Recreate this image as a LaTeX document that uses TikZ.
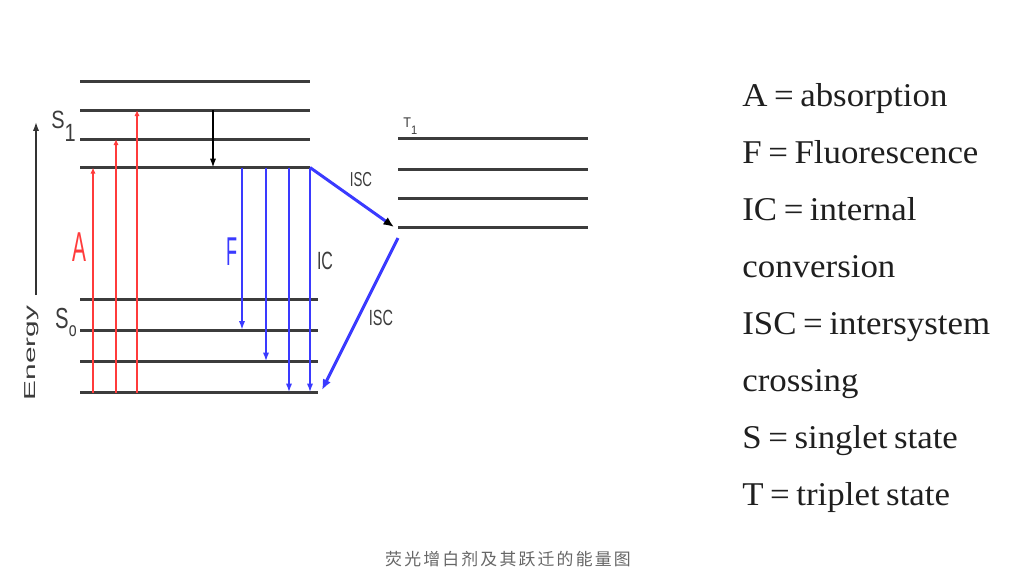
\documentclass[tikz,border=0pt]{standalone}
\usepackage{fontspec}
\setmainfont[WordSpace=0.75]{Liberation Serif}
\setsansfont{Liberation Sans}
\newfontfamily\cjk[LetterSpace=13]{Noto Sans CJK SC}
\usetikzlibrary{arrows.meta}

\definecolor{lvlgray}{HTML}{3C3C3C}
\definecolor{absred}{HTML}{FF3B3B}
\definecolor{emblue}{HTML}{3A3AFF}
\definecolor{capgray}{HTML}{666666}

\begin{document}
\begin{tikzpicture}[x=0.02cm, y=-0.02cm,
    level/.style={lvlgray, line width=1.7pt},
    absarr/.style={absred, line width=1pt, -{Latex[length=3.5pt,width=3pt]}},
    emarr/.style={emblue, line width=1.1pt, -{Latex[length=5pt,width=3.5pt]}},
    iscarr/.style={emblue, line width=1.7pt, -{Latex[length=6pt,width=5pt]}},
    lbl/.style={inner sep=0pt, font=\sffamily},
    legend/.style={inner sep=0pt, anchor=base west, xscale=1.05, text=black!88, font=\fontsize{18.9}{20}\selectfont}]
    \useasboundingbox (0,0) rectangle (1020,586);
    % energy levels S1, S0, T1
    \foreach \n/\y in {1/81,2/110,3/139,4/167.5} {
        \coordinate (S1a\n) at (80,\y); \coordinate (S1b\n) at (310,\y);
        \draw[level] (S1a\n) -- (S1b\n);
    }
    \foreach \n/\y in {1/299,2/330,3/361.5,4/392.5} {
        \coordinate (S0a\n) at (80,\y); \coordinate (S0b\n) at (318,\y);
        \draw[level] (S0a\n) -- (S0b\n);
    }
    \foreach \n/\y in {1/138.5,2/169,3/198,4/227} {
        \coordinate (T1a\n) at (398,\y); \coordinate (T1b\n) at (588,\y);
        \draw[level] (T1a\n) -- (T1b\n);
    }
    % absorption
    \foreach \i/\x/\t in {1/93/4,2/116/3,3/137/2} {
        \coordinate (ab\i) at (\x,392.5);
        \draw[absarr] (ab\i) -- (ab\i |- S1a\t);
    }
    % vibrational relaxation
    \coordinate (vr) at (213,110);
    \draw[black, line width=.8pt, -{Latex[length=5pt,width=3.5pt]}] (vr) -- (vr |- S1a4);
    % fluorescence and IC
    \foreach \i/\x/\t in {1/242/2,2/266/3,3/289/4,4/310/4} {
        \coordinate (em\i) at (\x,167.5);
        \draw[emarr] (em\i) -- (em\i |- S0a\t);
    }
    % intersystem crossing
    \coordinate (isc1) at (394,227);
    \coordinate (isc2) at (398,238);
    \coordinate (isc3) at (322,390);
    \draw[emblue, line width=1.7pt, -{Latex[length=6pt,width=5pt,color=black]}] (S1b4) -- (isc1);
    \draw[iscarr] (isc2) -- (isc3);
    % energy axis
    \coordinate (en0) at (36,295);
    \coordinate (en1) at (36,122);
    \draw[black!80, line width=.8pt, -{Latex[length=5pt,width=3.5pt]}] (en0) -- (en1);
    \node[lbl, rotate=90, yscale=.53, text=lvlgray, font=\sffamily\fontsize{17}{17}\selectfont] (energy) at (32,353) {Energy};
    % labels
    \node[lbl, anchor=base west, xscale=.8, text=lvlgray, font=\sffamily\fontsize{14.2}{14}\selectfont] (s1lab) at (51,128) {S\raisebox{-.55em}{1}};
    \node[lbl, anchor=base west, xscale=.7, text=lvlgray, font=\sffamily\fontsize{16.5}{16}\selectfont] (s0lab) at (55,328) {S\raisebox{-.3em}{\fontsize{11.5}{12}\selectfont o}};
    \node[lbl, anchor=base west, xscale=.9, text=lvlgray, font=\sffamily\fontsize{8}{8}\selectfont] (t1lab) at (403,127) {T\raisebox{-.5em}{\scriptsize 1}};
    \node[lbl, xscale=.5, text=absred, font=\sffamily\fontsize{23.8}{24}\selectfont] (alab) at (79.5,247) {A};
    \node[lbl, xscale=.45, text=emblue, font=\sffamily\fontsize{22.9}{23}\selectfont] (flab) at (232,252) {F};
    \node[lbl, xscale=.64, text=lvlgray, font=\sffamily\fontsize{14.2}{14}\selectfont] (iclab) at (325,261) {IC};
    \node[lbl, xscale=.66, text=lvlgray, font=\sffamily\fontsize{11.5}{12}\selectfont] (isclab1) at (361,180) {ISC};
    \node[lbl, xscale=.66, text=lvlgray, font=\sffamily\fontsize{12.5}{13}\selectfont] (isclab2) at (381,318) {ISC};
    % legend
    \foreach \t [count=\k] in {A = absorption, F = Fluorescence, IC = internal, conversion,
        ISC = intersystem, crossing, S = singlet state, T = triplet state}
        \node[legend] (leg\k) at (742,{106.7+56.9*(\k-1)}) {\t};
    % caption
    \node[inner sep=0pt, text=capgray, font=\cjk\fontsize{9.6}{10}\selectfont] (cap) at (508,559) {荧光增白剂及其跃迁的能量图};
\end{tikzpicture}
\end{document}
